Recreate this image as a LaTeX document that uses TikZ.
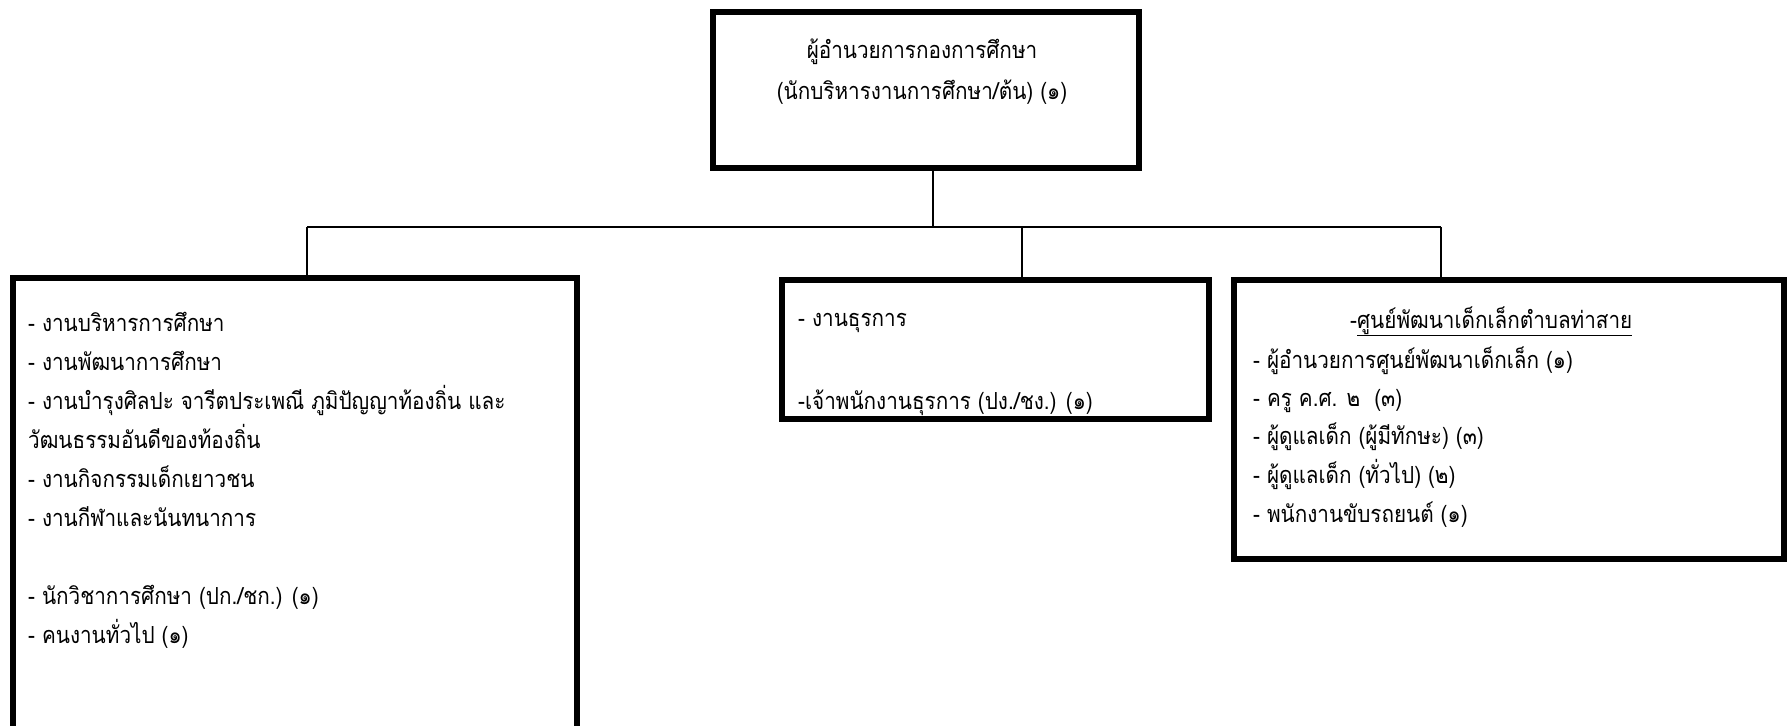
\documentclass[tikz,border=0pt]{standalone}
\usepackage{fontspec}
\newfontfamily\thaifont[Script=Thai,FakeStretch=0.88]{Loma}
\begin{document}
\begin{tikzpicture}[x=1pt,y=-1pt,
  box/.style={draw=black,line width=6pt,rectangle,inner sep=0pt,fill=none},
  conn/.style={draw=black,line width=1.6pt},
  txt/.style={inner sep=0pt,anchor=base west,font=\thaifont\fontsize{23.5}{28}\selectfont},
  ctxt/.style={txt,anchor=base}]
\useasboundingbox (0,0) rectangle (1787,725);
\clip (0,0) rectangle (1787,725);
% boxes
\node[box,minimum width=426pt,minimum height=156pt] (top) at (926,90) {};
\node[box,minimum width=564pt,minimum height=482pt] (left) at (295,519) {};
\node[box,minimum width=427pt,minimum height=139pt] (mid) at (995.5,349.5) {};
\node[box,minimum width=550pt,minimum height=279pt] (right) at (1509,419.5) {};
% connectors
\coordinate (j) at (933,227);
\coordinate (bl) at (307,227);
\coordinate (bm) at (1022,227);
\coordinate (br) at (1441,227);
\draw[conn] (top.south -| j) -- (j);
\draw[conn] (bl) -- (br);
\draw[conn] (bl) -- (left.north -| bl);
\draw[conn] (bm) -- (mid.north -| bm);
\draw[conn] (br) -- (right.north -| br);
% top text
\node[ctxt] (t1) at (922,59) {ผู้อำนวยการกองการศึกษา};
\node[ctxt] (t2) at (922,99) {(นักบริหารงานการศึกษา/ต้น) (๑)};
% left text
\node[txt] (l1) at (28,331) {- งานบริหารการศึกษา};
\node[txt] (l2) at (28,370) {- งานพัฒนาการศึกษา};
\node[txt] (l3) at (28,409) {- งานบำรุงศิลปะ จารีตประเพณี ภูมิปัญญาท้องถิ่น และ};
\node[txt] (l4) at (28,448) {วัฒนธรรมอันดีของท้องถิ่น};
\node[txt] (l5) at (28,487) {- งานกิจกรรมเด็กเยาวชน};
\node[txt] (l6) at (28,526) {- งานกีฬาและนันทนาการ};
\node[txt] (l7) at (28,604) {- นักวิชาการศึกษา (ปก./ชก.) (๑)};
\node[txt] (l8) at (28,643) {- คนงานทั่วไป (๑)};
% middle text
\node[txt] (m1) at (798,326) {- งานธุรการ};
\node[txt] (m2) at (798,409) {-เจ้าพนักงานธุรการ (ปง./ชง.) (๑)};
% right text
\node[txt] (r0) at (1350,328) {-\underline{ศูนย์พัฒนาเด็กเล็กตำบลท่าสาย}};
\node[txt] (r1) at (1253,368) {- ผู้อำนวยการศูนย์พัฒนาเด็กเล็ก (๑)};
\node[txt] (r2) at (1253,406) {- ครู ค.ศ. ๒ ~(๓)};
\node[txt] (r3) at (1253,444) {- ผู้ดูแลเด็ก (ผู้มีทักษะ) (๓)};
\node[txt] (r4) at (1253,483) {- ผู้ดูแลเด็ก (ทั่วไป) (๒)};
\node[txt] (r5) at (1253,522) {- พนักงานขับรถยนต์ (๑)};
\end{tikzpicture}
\end{document}
